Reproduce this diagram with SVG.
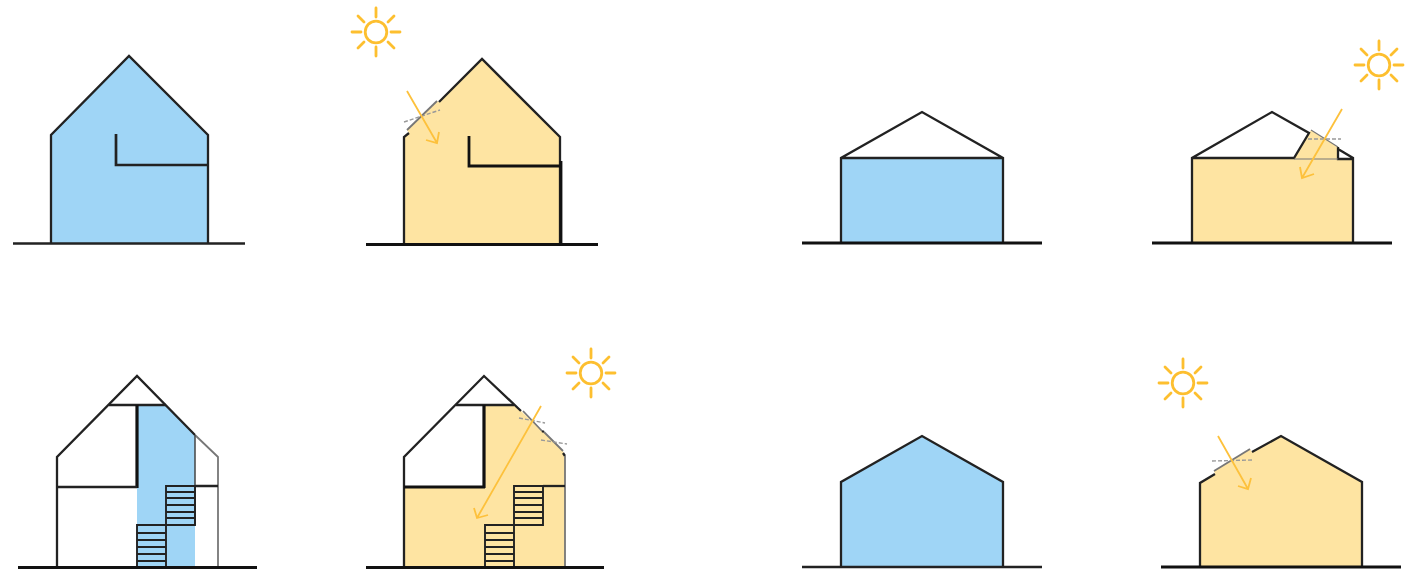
<svg xmlns="http://www.w3.org/2000/svg" width="1406" height="569" viewBox="0 0 1406 569">
<style>
.b{fill:#9fd5f6;stroke:none}
.y{fill:#fee4a2;stroke:none}
.l{fill:none;stroke:#222;stroke-width:2.300;stroke-linejoin:miter}
.h{fill:none;stroke:#111;stroke-width:3.200}
.m{fill:none;stroke:#222;stroke-width:1.900}
.g{fill:none;stroke:#777;stroke-width:1.800}
.d{fill:none;stroke:#999;stroke-width:1.400;stroke-dasharray:4 2}
.a{fill:none;stroke:#fdc13c;stroke-width:1.800}
.s{fill:none;stroke:#fdbf2f;stroke-width:2.800;stroke-linecap:round}
.t{fill:none;stroke:#444;stroke-width:1.500}
</style>
<defs>
<g id="sun" class="s">
<circle cx="0" cy="0" r="10.800"/>
<path d="M0-15V-24M0 15V24M-15 0H-24M15 0H24M-12-10L-18-16M12-10L18-16M-12 10L-18 16M12 10L18 16"/>
</g>
</defs>
<g id="house-1">
<path class="b" d="M51 135L129 56L208 135V243H51Z"/>
<path class="l" d="M51 243V135L129 56L208 135V243"/>
<path class="l" d="M116 134V165H208" style="stroke-width:2.700"/>
<path class="l" d="M13 243.500H245"/>
</g>
<g id="house-2">
<use href="#sun" x="376" y="32"/>
<path class="y" d="M403 137L409 133L407 130L437 101L439 102L482 59L560 137V244H403Z"/>
<path class="l" d="M404 244V137L409 133M439 102L482 59L560 137V244"/>
<path class="g" d="M407 130L437 101"/>
<path class="h" d="M469 136V166H561M561 161V244" style="stroke-width:2.800"/>
<path class="h" d="M366 244.500H598"/>
<path class="d" d="M404 122L440 110"/>
<path class="a" d="M407 91L437 143M426 140L437 143L439 132"/>
</g>
<g id="house-3">
<rect class="b" x="841" y="158" width="162" height="84"/>
<path class="l" d="M841 242V158L922 112L1003 158V242M841 158H1003"/>
<path class="h" d="M802 243H1042"/>
</g>
<g id="house-4">
<use href="#sun" x="1379" y="65"/>
<path class="y" d="M1192 159H1294L1311 130L1338 147V159H1353V243H1192Z"/>
<path class="l" d="M1192 243V158L1272 112L1309 133L1294 158H1192M1338 149L1353 158V243M1338 147V159H1353"/>
<path class="g" d="M1294 159H1338M1311 130L1338 147" style="stroke-width:1.200"/>
<path class="h" d="M1152 243H1392"/>
<path class="d" d="M1308 139H1341"/>
<path class="a" d="M1342 109L1302 178M1300 167L1302 178L1314 174"/>
</g>
<g id="house-5">
<path class="b" d="M137 405H166L195 435V566H137Z"/>
<path class="l" d="M57 567V457L137 376L195 435"/>
<path class="g" d="M195 435L218 457V567"/>
<path class="l" d="M109 405H166"/>
<path class="h" d="M137 405V488"/>
<path class="l" d="M57 487H137M195 486H218"/>
<path class="t" d="M195 435V525"/>
<path class="m" d="M166 486H195V525H166ZM166 492H195M166 498H195M166 505H195M166 512H195M166 518H195"/>
<path class="m" d="M137 525H166V567H137ZM137 533H166M137 540H166M137 547H166M137 554H166M137 561H166"/>
<path class="h" d="M18 567.500H257"/>
</g>
<g id="house-6">
<use href="#sun" x="591" y="373"/>
<path class="y" d="M404 487H484V405H514L521 411L542 431L544 432L563 451L565 456V567H404Z"/>
<path class="l" d="M404 567V457L484 376L521 411M563 453L565 456M542 431L544 432"/>
<path class="g" d="M523 411L542 431M544 432L563 451M565 456V567"/>
<path class="l" d="M456 405H514"/>
<path class="h" d="M484 405V488M404 487H485"/>
<path class="l" d="M543 486H565"/>
<path class="m" d="M514 486H543V525H514ZM514 492H543M514 498H543M514 505H543M514 512H543M514 518H543"/>
<path class="m" d="M485 525H514V567H485ZM485 533H514M485 540H514M485 547H514M485 554H514M485 561H514"/>
<path class="h" d="M366 567.500H604"/>
<path class="d" d="M519 418L545 423M541 440L567 444"/>
<path class="a" d="M541 406L477 518M474 508L477 518L488 515"/>
</g>
<g id="house-7">
<path class="b" d="M841 482L922 436L1003 482V567H841Z"/>
<path class="l" d="M841 567V482L922 436L1003 482V567"/>
<path class="l" d="M802 567H1042"/>
</g>
<g id="house-8">
<use href="#sun" x="1183" y="383"/>
<path class="y" d="M1200 483L1215 474L1214 471L1250 449L1252 452L1281 436L1362 482V567H1200Z"/>
<path class="l" d="M1200 567V483L1215 474M1252 452L1281 436L1362 482V567"/>
<path class="g" d="M1214 471L1250 449"/>
<path class="h" d="M1161 567H1401" style="stroke-width:2.800"/>
<path class="d" d="M1212 461L1252 460"/>
<path class="a" d="M1218 436L1248 489M1238 486L1248 489L1251 478"/>
</g>
</svg>
